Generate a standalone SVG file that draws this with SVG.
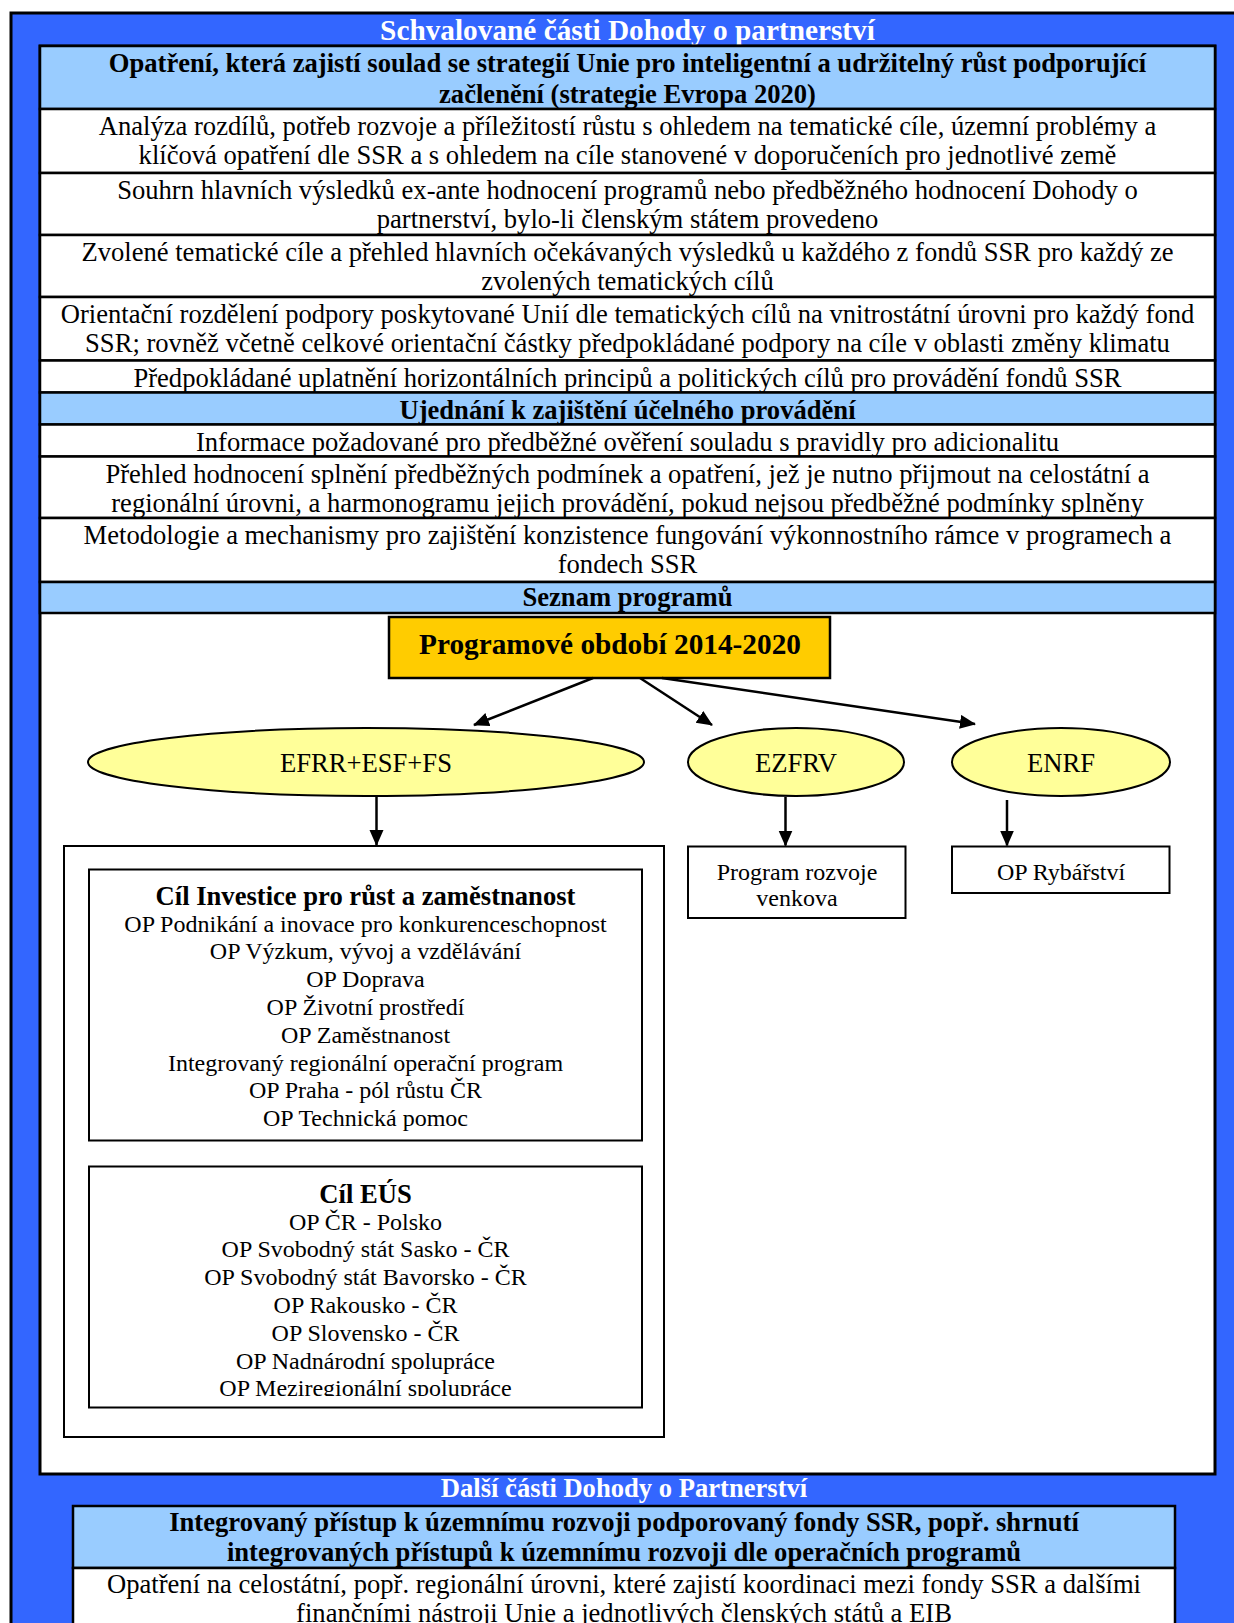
<svg xmlns="http://www.w3.org/2000/svg" width="1234" height="1623" viewBox="0 0 1234 1623">
<style>
.f{font-family:"Liberation Serif","Times New Roman",serif;fill:#000;text-anchor:middle}
.r{font-size:26.6px}
.b{font-weight:bold}
.sm{font-size:24px}
.w{fill:#fff}
.cell{fill:#fff;stroke:#000;stroke-width:2.5}
.hd{fill:#99CCFF;stroke:#000;stroke-width:2.5}
.box{fill:#fff;stroke:#000;stroke-width:2}
.ell{fill:#FFFF99;stroke:#000;stroke-width:2}
.con{stroke:#000;stroke-width:2.5;fill:none}
</style>
<defs>
<marker id="ah" markerUnits="userSpaceOnUse" markerWidth="17" markerHeight="15" refX="15" refY="7" orient="auto">
<path d="M0,0 L16,7 L0,14 z" fill="#000"/>
</marker>
<clipPath id="clipEus"><rect x="89" y="1166" width="553" height="230"/></clipPath>
</defs>

<g id="background">
<rect x="11" y="13" width="1240" height="1620" fill="#3366FF" stroke="#000" stroke-width="3"/>
<text class="f b w" x="627.5" y="40" font-size="29.3">Schvalované části Dohody o partnerství</text>
<text class="f b w r" x="624" y="1497">Další části Dohody o Partnerství</text>
</g>

<g id="table-top">
<rect x="40" y="46" width="1175" height="1428" fill="#fff" stroke="#000" stroke-width="3"/>
<g id="row-strategie">
<rect class="hd" x="40" y="46" width="1175" height="63"/>
<text class="f b r" x="627.5" y="72">Opatření, která zajistí soulad se strategií Unie pro inteligentní a udržitelný růst podporující</text>
<text class="f b r" x="627.5" y="102.5">začlenění (strategie Evropa 2020)</text>
</g>
<g id="row-analyza">
<rect class="cell" x="40" y="109" width="1175" height="64"/>
<text class="f r" x="627.5" y="135">Analýza rozdílů, potřeb rozvoje a příležitostí růstu s ohledem na tematické cíle, územní problémy a</text>
<text class="f r" x="627.5" y="164">klíčová opatření dle SSR a s ohledem na cíle stanovené v doporučeních pro jednotlivé země</text>
</g>
<g id="row-souhrn">
<rect class="cell" x="40" y="173" width="1175" height="62"/>
<text class="f r" x="627.5" y="199">Souhrn hlavních výsledků ex-ante hodnocení programů nebo předběžného hodnocení Dohody o</text>
<text class="f r" x="627.5" y="228">partnerství, bylo-li členským státem provedeno</text>
</g>
<g id="row-zvolene">
<rect class="cell" x="40" y="235" width="1175" height="62"/>
<text class="f r" x="627.5" y="261">Zvolené tematické cíle a přehled hlavních očekávaných výsledků u každého z fondů SSR pro každý ze</text>
<text class="f r" x="627.5" y="290">zvolených tematických cílů</text>
</g>
<g id="row-orientacni">
<rect class="cell" x="40" y="297" width="1175" height="63.5"/>
<text class="f r" x="627.5" y="323">Orientační rozdělení podpory poskytované Unií dle tematických cílů na vnitrostátní úrovni pro každý fond</text>
<text class="f r" x="627.5" y="352">SSR; rovněž včetně celkové orientační částky předpokládané podpory na cíle v oblasti změny klimatu</text>
</g>
<g id="row-predpokladane">
<rect class="cell" x="40" y="360.5" width="1175" height="32"/>
<text class="f r" x="627.5" y="386.5">Předpokládané uplatnění horizontálních principů a politických cílů pro provádění fondů SSR</text>
</g>
<g id="row-ujednani">
<rect class="hd" x="40" y="392.5" width="1175" height="32"/>
<text class="f b r" x="627.5" y="418.5">Ujednání k zajištění účelného provádění</text>
</g>
<g id="row-informace">
<rect class="cell" x="40" y="424.5" width="1175" height="32"/>
<text class="f r" x="627.5" y="450.5">Informace požadované pro předběžné ověření souladu s pravidly pro adicionalitu</text>
</g>
<g id="row-prehled">
<rect class="cell" x="40" y="456.5" width="1175" height="61.5"/>
<text class="f r" x="627.5" y="482.5">Přehled hodnocení splnění předběžných podmínek a opatření, jež je nutno přijmout na celostátní a</text>
<text class="f r" x="627.5" y="511.5">regionální úrovni, a harmonogramu jejich provádění, pokud nejsou předběžné podmínky splněny</text>
</g>
<g id="row-metodologie">
<rect class="cell" x="40" y="518" width="1175" height="64"/>
<text class="f r" x="627.5" y="544">Metodologie a mechanismy pro zajištění konzistence fungování výkonnostního rámce v programech a</text>
<text class="f r" x="627.5" y="573">fondech SSR</text>
</g>
<g id="row-seznam">
<rect class="hd" x="40" y="582" width="1175" height="31"/>
<text class="f b r" x="627.5" y="606">Seznam programů</text>
</g>
</g>

<g id="node-obdobi">
<rect x="389" y="617" width="441" height="61" fill="#FFCC00" stroke="#000" stroke-width="2.5"/>
<text class="f b" x="610" y="654" font-size="29.3">Programové období 2014-2020</text>
</g>

<g id="node-efrr">
<ellipse class="ell" cx="366" cy="762" rx="278" ry="34"/>
<text class="f r" x="366" y="771.5">EFRR+ESF+FS</text>
</g>
<g id="node-ezfrv">
<ellipse class="ell" cx="796" cy="762" rx="108" ry="34"/>
<text class="f r" x="796" y="771.5">EZFRV</text>
</g>
<g id="node-enrf">
<ellipse class="ell" cx="1061" cy="762" rx="109" ry="34"/>
<text class="f r" x="1061" y="771.5">ENRF</text>
</g>

<g id="node-efrr-programy">
<rect class="box" x="64" y="846" width="600" height="591"/>
<g id="node-cil-investice">
<rect class="box" x="89" y="869.5" width="553" height="271"/>
<text class="f b r" x="365.5" y="904.5">Cíl Investice pro růst a zaměstnanost</text>
<text class="f sm" x="365.5" y="931.5">OP Podnikání a inovace pro konkurenceschopnost</text>
<text class="f sm" x="365.5" y="959.3">OP Výzkum, vývoj a vzdělávání</text>
<text class="f sm" x="365.5" y="987.1">OP Doprava</text>
<text class="f sm" x="365.5" y="1014.9">OP Životní prostředí</text>
<text class="f sm" x="365.5" y="1042.7">OP Zaměstnanost</text>
<text class="f sm" x="365.5" y="1070.5">Integrovaný regionální operační program</text>
<text class="f sm" x="365.5" y="1098.3">OP Praha - pól růstu ČR</text>
<text class="f sm" x="365.5" y="1126.1">OP Technická pomoc</text>
</g>
<g id="node-cil-eus">
<rect class="box" x="89" y="1166.5" width="553" height="241"/>
<g clip-path="url(#clipEus)">
<text class="f b r" x="365.5" y="1202.7">Cíl EÚS</text>
<text class="f sm" x="365.5" y="1229.6">OP ČR - Polsko</text>
<text class="f sm" x="365.5" y="1257.4">OP Svobodný stát Sasko - ČR</text>
<text class="f sm" x="365.5" y="1285.2">OP Svobodný stát Bavorsko - ČR</text>
<text class="f sm" x="365.5" y="1313">OP Rakousko - ČR</text>
<text class="f sm" x="365.5" y="1340.8">OP Slovensko - ČR</text>
<text class="f sm" x="365.5" y="1368.6">OP Nadnárodní spolupráce</text>
<text class="f sm" x="365.5" y="1396.4">OP Meziregionální spolupráce</text>
</g>
</g>
</g>

<g id="node-program-rozvoje">
<rect class="box" x="688" y="846.5" width="217.5" height="71.5"/>
<text class="f sm" x="797" y="880">Program rozvoje</text>
<text class="f sm" x="797" y="906">venkova</text>
</g>
<g id="node-op-rybarstvi">
<rect class="box" x="952" y="846.5" width="217.5" height="46.5"/>
<text class="f sm" x="1061" y="880">OP Rybářství</text>
</g>

<g id="connectors">
<line class="con" x1="593" y1="678" x2="474" y2="725" marker-end="url(#ah)"/>
<line class="con" x1="640" y1="678" x2="712" y2="725" marker-end="url(#ah)"/>
<line class="con" x1="662" y1="678" x2="975" y2="724" marker-end="url(#ah)"/>
<line class="con" x1="376.5" y1="797" x2="376.5" y2="845" marker-end="url(#ah)"/>
<line class="con" x1="785.5" y1="797" x2="785.5" y2="845.5" marker-end="url(#ah)"/>
<line class="con" x1="1007" y1="800" x2="1007" y2="845.5" marker-end="url(#ah)"/>
</g>

<g id="table-bottom">
<g id="row-integrovany">
<rect class="hd" x="73" y="1506" width="1102" height="62"/>
<text class="f b r" x="624" y="1530.5">Integrovaný přístup k územnímu rozvoji podporovaný fondy SSR, popř. shrnutí</text>
<text class="f b r" x="624" y="1561">integrovaných přístupů k územnímu rozvoji dle operačních programů</text>
</g>
<g id="row-opatreni">
<rect class="cell" x="73" y="1568" width="1102" height="80"/>
<text class="f r" x="624" y="1593">Opatření na celostátní, popř. regionální úrovni, které zajistí koordinaci mezi fondy SSR a dalšími</text>
<text class="f r" x="624" y="1622">finančními nástroji Unie a jednotlivých členských států a EIB</text>
</g>
</g>
</svg>
